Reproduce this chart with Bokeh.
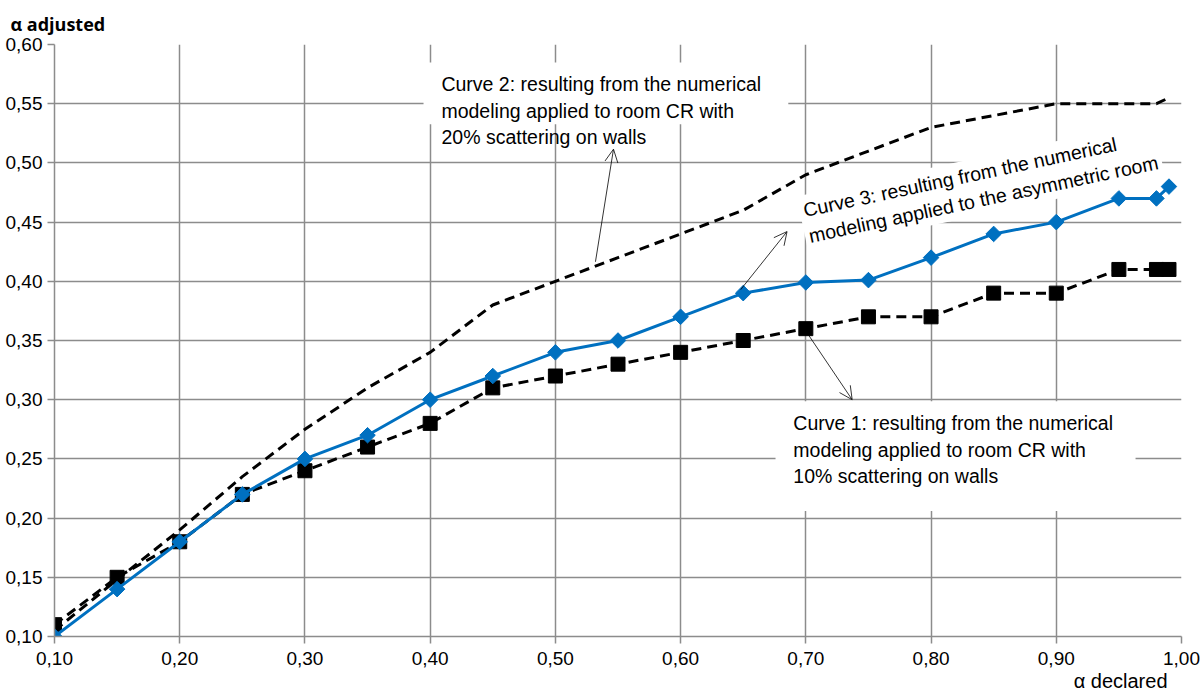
from bokeh.plotting import figure
from bokeh.models import (Range1d, FixedTicker, Label, Arrow, OpenHead, BoxAnnotation,
                          ColumnDataSource, Title)
from bokeh.embed import file_html
from bokeh.resources import INLINE
import math

# ---- data ----
alpha_declared = [0.10, 0.15, 0.20, 0.25, 0.30, 0.35, 0.40, 0.45, 0.50, 0.55,
                  0.60, 0.65, 0.70, 0.75, 0.80, 0.85, 0.90, 0.95, 0.98, 0.99]
curve1_cr_10 = [0.11, 0.15, 0.18, 0.22, 0.24, 0.26, 0.28, 0.31, 0.32, 0.33,
                0.34, 0.35, 0.36, 0.37, 0.37, 0.39, 0.39, 0.41, 0.41, 0.41]
curve2_cr_20 = [0.105, 0.148, 0.19, 0.235, 0.275, 0.31, 0.34, 0.38, 0.40, 0.42,
                0.44, 0.46, 0.49, 0.51, 0.53, 0.54, 0.55, 0.55, 0.55, 0.555]
curve3_asym = [0.10, 0.14, 0.18, 0.22, 0.25, 0.27, 0.30, 0.32, 0.34, 0.35,
               0.37, 0.39, 0.399, 0.401, 0.42, 0.44, 0.45, 0.47, 0.47, 0.48]

x_ticks = [0.1, 0.2, 0.3, 0.4, 0.5, 0.6, 0.7, 0.8, 0.9, 1.0]
x_tick_labels = ["0,10", "0,20", "0,30", "0,40", "0,50", "0,60", "0,70", "0,80", "0,90", "1,00"]
y_ticks = [0.1, 0.15, 0.2, 0.25, 0.3, 0.35, 0.4, 0.45, 0.5, 0.55, 0.6]
y_tick_labels = ["0,10", "0,15", "0,20", "0,25", "0,30", "0,35", "0,40", "0,45", "0,50", "0,55", "0,60"]

curve1_text = "Curve 1: resulting from the numerical\nmodeling applied to room CR with\n10% scattering on walls"
curve2_text = "Curve 2: resulting from the numerical\nmodeling applied to room CR with\n20% scattering on walls"
curve3_text = "Curve 3: resulting from the numerical\nmodeling applied to the asymmetric room"

FONT = "Liberation Sans"
GRID = "#8c8c8c"

src = ColumnDataSource(dict(x=alpha_declared, c1=curve1_cr_10, c2=curve2_cr_20, c3=curve3_asym))

p = figure(width=1200, height=697, output_backend="svg", toolbar_location=None,
           x_range=Range1d(0.1, 1.0), y_range=Range1d(0.1, 0.6),
           min_border_left=54, min_border_right=19, min_border_top=42, min_border_bottom=61)
p.outline_line_color = None
p.background_fill_color = "white"
p.border_fill_color = "white"

for ax in (p.xaxis[0], p.yaxis[0]):
    ax.axis_line_color = GRID
    ax.axis_line_width = 1.5
    ax.major_tick_line_color = GRID
    ax.major_tick_line_width = 1.5
    ax.major_tick_out = 7
    ax.major_tick_in = 0
    ax.minor_tick_line_color = None
    ax.major_label_text_font = FONT
    ax.major_label_text_font_size = "19px"
    ax.major_label_text_color = "black"
    ax.major_label_standoff = 5

p.xaxis.ticker = FixedTicker(ticks=x_ticks)
p.yaxis.ticker = FixedTicker(ticks=y_ticks)
p.xaxis.major_label_overrides = dict(zip(x_ticks, x_tick_labels))
p.yaxis.major_label_overrides = dict(zip(y_ticks, y_tick_labels))
p.xaxis.major_label_standoff = 8

p.grid.grid_line_color = GRID
p.grid.grid_line_width = 1.5

# axis titles
p.add_layout(Title(text="α adjusted", align="left", offset=-44, standoff=18,
                   text_font="Open Sans", text_font_style="bold", text_font_size="18px",
                   text_color="black"), "above")
p.add_layout(Title(text="α declared", align="right", offset=14, standoff=0,
                   text_font=FONT, text_font_style="normal", text_font_size="20px",
                   text_color="black"), "below")

# white boxes behind the notes (cover the grid only)
p.add_layout(BoxAnnotation(left=0.3947, right=0.686, top=0.5848, bottom=0.5327,
                           fill_color="white", fill_alpha=1.0, line_color=None, level="underlay"))
p.add_layout(BoxAnnotation(left=0.6758, right=0.9633, top=0.2987, bottom=0.206,
                           fill_color="white", fill_alpha=1.0, line_color=None, level="underlay"))

# curves
p.line("x", "c2", source=src, line_color="black", line_width=3, line_dash="10 6")
p.line("x", "c1", source=src, line_color="black", line_width=3, line_dash="10 6")
p.scatter("x", "c1", source=src, marker="square", size=14, fill_color="black", line_color="black")
p.line("x", "c3", source=src, line_color="#0070C0", line_width=3)
p.scatter("x", "c3", source=src, marker="square", angle=math.pi / 4, size=11,
          fill_color="#0070C0", line_color="#0070C0")

# arrows
for xs, ys, xe, ye in [(0.532, 0.4165, 0.5464, 0.5116),
                       (0.648, 0.393, 0.685, 0.442),
                       (0.700, 0.358, 0.737, 0.300)]:
    p.add_layout(Arrow(end=OpenHead(size=13, line_width=0.8, line_color="black"),
                       x_start=xs, y_start=ys, x_end=xe, y_end=ye,
                       line_width=0.8, line_color="black"))

# notes
p.add_layout(Label(x=0.409, y=0.5756, text=curve2_text, text_font=FONT,
                   text_font_size="19.5px", text_align="left", text_baseline="top",
                   text_line_height=1.2, text_color="black"))
p.add_layout(Label(x=0.690, y=0.2894, text=curve1_text, text_font=FONT,
                   text_font_size="19.5px", text_align="left", text_baseline="top",
                   text_line_height=1.2, text_color="black"))
p.add_layout(Label(x=0.6926, y=0.4717, text=curve3_text, text_font=FONT,
                   text_font_size="19.5px", text_align="left", text_baseline="top",
                   text_line_height=1.2, text_color="black", angle=12, angle_units="deg",
                   background_fill_color="white", background_fill_alpha=1.0, padding=4))

open("out.html", "w").write(file_html(p, INLINE))
